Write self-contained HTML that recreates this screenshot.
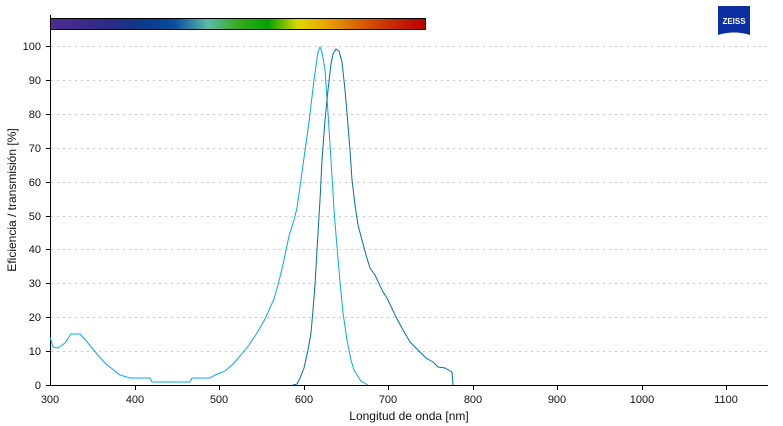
<!DOCTYPE html><html><head><style>body{margin:0;background:#fff}svg{display:block;font-family:"Liberation Sans",sans-serif}</style></head><body>
<svg width="783" height="426" viewBox="0 0 783 426">
<defs><linearGradient id="g" x1="0" x2="1"><stop offset="0" stop-color="#4e2c92"/><stop offset="0.15" stop-color="#2e2a86"/><stop offset="0.25" stop-color="#0a3a8c"/><stop offset="0.33" stop-color="#0a4c9e"/><stop offset="0.42" stop-color="#5abba8"/><stop offset="0.5" stop-color="#38aa20"/><stop offset="0.58" stop-color="#04a200"/><stop offset="0.66" stop-color="#dcd800"/><stop offset="0.73" stop-color="#eba800"/><stop offset="0.82" stop-color="#d86400"/><stop offset="0.9" stop-color="#c83000"/><stop offset="1" stop-color="#bb0000"/></linearGradient></defs>
<rect x="50.5" y="18.5" width="375" height="11" fill="url(#g)" stroke="#000"/>
<path d="M718 6h32v29q-16-5-32 0z" fill="#0b2fa3"/>
<text x="734" y="24" font-size="8" font-weight="bold" fill="#fff" text-anchor="middle">ZEISS</text>
<g stroke="#c4c4c4" stroke-dasharray="2,4" stroke-width="1">
<line x1="51" x2="768" y1="46.5" y2="46.5"/><line x1="51" x2="768" y1="80.5" y2="80.5"/><line x1="51" x2="768" y1="114.5" y2="114.5"/><line x1="51" x2="768" y1="148.5" y2="148.5"/><line x1="51" x2="768" y1="182.5" y2="182.5"/><line x1="51" x2="768" y1="216.5" y2="216.5"/><line x1="51" x2="768" y1="249.5" y2="249.5"/><line x1="51" x2="768" y1="283.5" y2="283.5"/><line x1="51" x2="768" y1="317.5" y2="317.5"/><line x1="51" x2="768" y1="351.5" y2="351.5"/></g>
<g stroke="#000"><line x1="50.5" y1="15" x2="50.5" y2="386"/><line x1="50" y1="385.5" x2="768" y2="385.5"/>
<path d="M46 46.5h4M46 80.5h4M46 114.5h4M46 148.5h4M46 182.5h4M46 216.5h4M46 249.5h4M46 283.5h4M46 317.5h4M46 351.5h4M46 385.5h4M135.5 386v4M219.5 386v4M304.5 386v4M388.5 386v4M473.5 386v4M557.5 386v4M642.5 386v4M726.5 386v4"/></g>
<g font-size="11" text-anchor="end" fill="#111"><text x="41" y="50">100</text><text x="41" y="84">90</text><text x="41" y="118">80</text><text x="41" y="152">70</text><text x="41" y="186">60</text><text x="41" y="220">50</text><text x="41" y="253">40</text><text x="41" y="287">30</text><text x="41" y="321">20</text><text x="41" y="355">10</text><text x="41" y="389">0</text></g>
<g font-size="11" text-anchor="middle" fill="#111"><text x="50" y="403">300</text><text x="135" y="403">400</text><text x="219" y="403">500</text><text x="304" y="403">600</text><text x="388" y="403">700</text><text x="473" y="403">800</text><text x="557" y="403">900</text><text x="642" y="403">1000</text><text x="726" y="403">1100</text>
<text x="409" y="420" font-size="12">Longitud de onda [nm]</text>
<text transform="translate(16,200) rotate(-90)" font-size="12">Eficiencia / transmisión [%]</text></g>
<polyline fill="none" stroke="#00aaee" stroke-width="1" points="50,337 53,347 58,348 65,343 71,334 80,334 88,343 97,354 106,364 120,375 130,378 150,378 152,382 190,382 192,378 210,378 215,375 225,371 233,364 241,355 249,345 257,333 265,319 269,310 274,299 279,281 284,260 289,236 294,220 297,208 303,165 309,122 314,80 318,52 320,47 322,52 325,70 328,113 331,160 334,210 337,247 340,282 343,313 347,340 351,360 354,370 357,375 361,381 368,385"/>
<polyline fill="none" stroke="#0070a8" stroke-width="1" points="293,385 297,384 300,378 304,368 308,350 311,333 313,310 315,285 317,250 320,200 322,160 325,120 328,90 331,64 333,54 336,49 339,51 342,62 345,90 347,113 350,150 352,180 355,205 358,225 362,240 366,255 370,268 375,275 382,290 388,300 396,317 403,330 410,342 418,350 426,358 433,362 438,367 445,368 452,372 453,385"/>
</svg></body></html>
